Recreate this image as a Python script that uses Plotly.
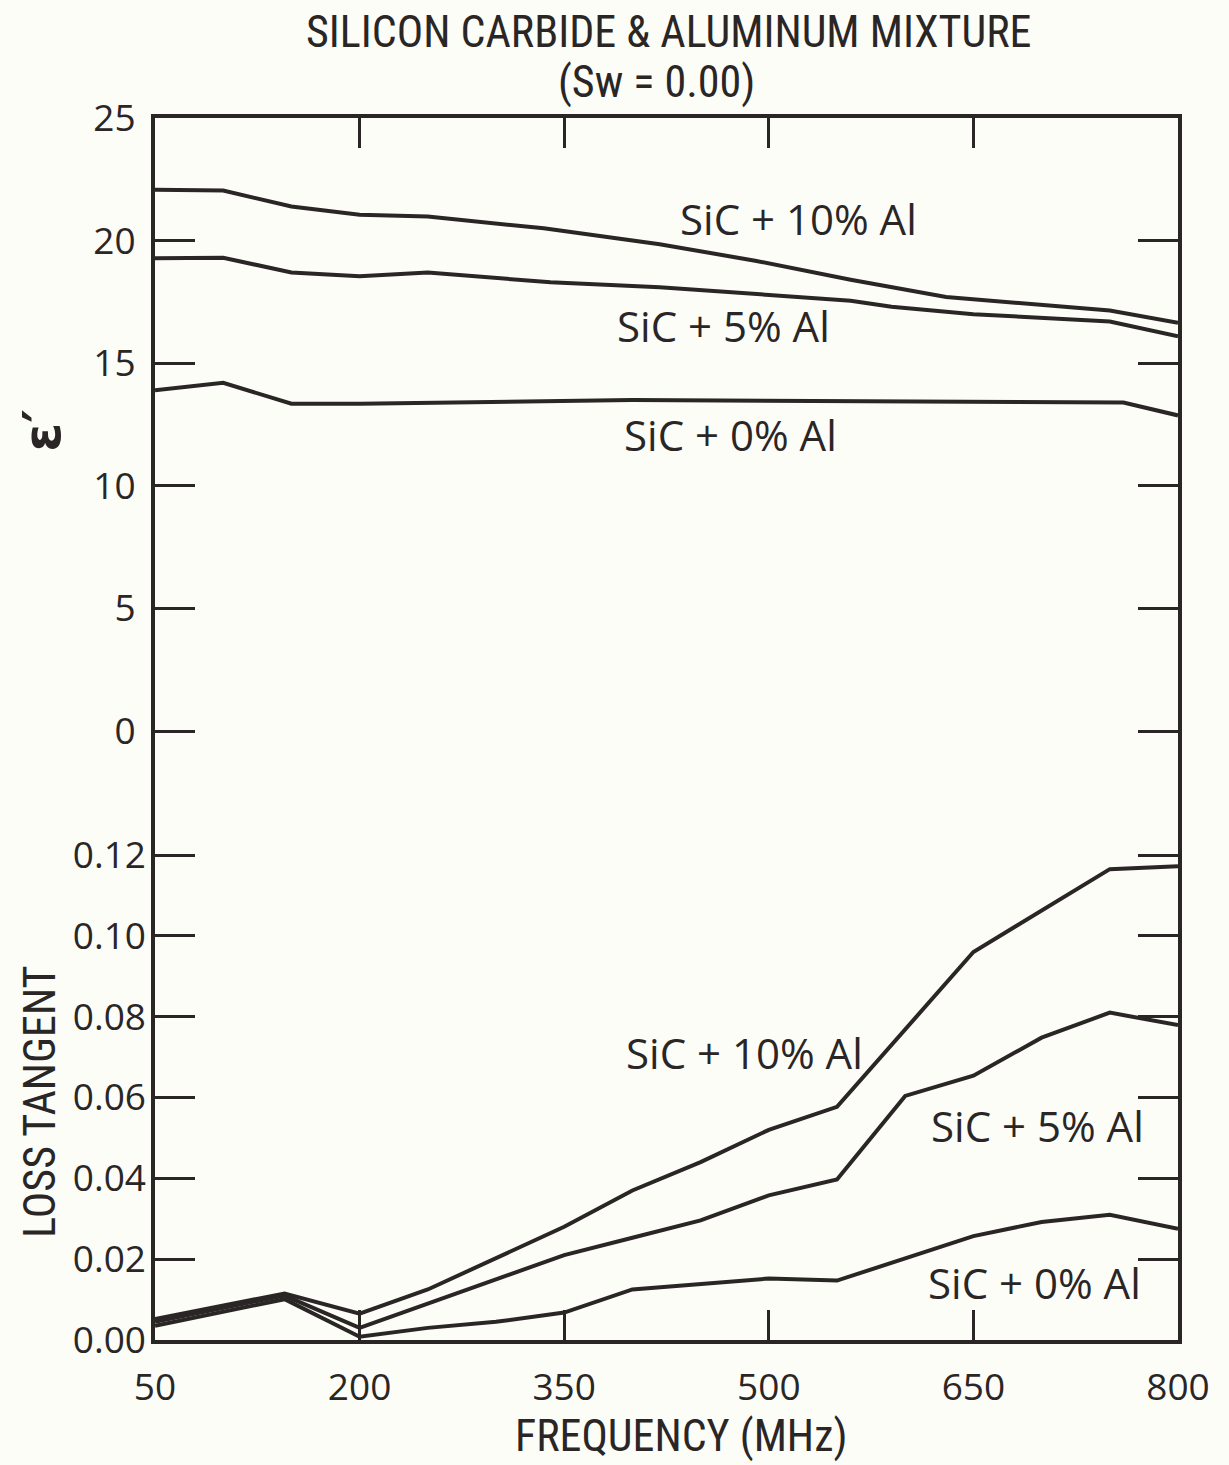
import plotly.graph_objects as go

# ---- data ----
freq_eps_10 = [50, 100, 150, 200, 250, 335, 420, 490, 560, 630, 750, 800]
eps_10 = [22.07, 22.04, 21.39, 21.05, 20.98, 20.5, 19.85, 19.18, 18.4, 17.7, 17.15, 16.65]

freq_eps_5 = [50, 100, 150, 200, 250, 340, 420, 560, 590, 650, 750, 800]
eps_5 = [19.28, 19.3, 18.7, 18.55, 18.7, 18.3, 18.1, 17.55, 17.3, 17.0, 16.7, 16.1]

freq_eps_0 = [50, 100, 150, 200, 400, 760, 800]
eps_0 = [13.9, 14.2, 13.35, 13.35, 13.5, 13.4, 12.87]

freq_lt_10 = [50, 145, 200, 250, 350, 400, 450, 500, 550, 650, 750, 800]
lt_10 = [0.0052, 0.0115, 0.0065, 0.0125, 0.028, 0.037, 0.044, 0.052, 0.0577, 0.096, 0.1165, 0.1172]

freq_lt_5 = [50, 145, 200, 350, 400, 450, 500, 550, 600, 650, 700, 750, 800]
lt_5 = [0.0045, 0.011, 0.003, 0.021, 0.0253, 0.0296, 0.0358, 0.0397, 0.0604, 0.0654, 0.0748, 0.081, 0.0779]

freq_lt_0 = [50, 145, 200, 250, 300, 350, 400, 450, 500, 550, 650, 700, 750, 800]
lt_0 = [0.0035, 0.0101, 0.0008, 0.003, 0.0045, 0.0068, 0.0125, 0.0138, 0.0152, 0.0147, 0.0257, 0.0292, 0.031, 0.0275]

x_ticks = [50, 200, 350, 500, 650, 800]
eps_ticks = [0, 5, 10, 15, 20, 25]
lt_ticks = [0.0, 0.02, 0.04, 0.06, 0.08, 0.10, 0.12]
lt_tick_text = ["0.00", "0.02", "0.04", "0.06", "0.08", "0.10", "0.12"]

title_line1 = "SILICON CARBIDE & ALUMINUM MIXTURE"
title_line2 = "(Sw = 0.00)"
series_labels = ["SiC + 10% Al", "SiC + 5% Al", "SiC + 0% Al"]

# ---- styling ----
INK = "#2b2626"
BG = "#fdfdf8"
LW = 4
TICK_FONT = dict(family="Open Sans, Lato, DejaVu Sans", size=37, color=INK)
COND_FONT = "Liberation Sans Narrow, Roboto Condensed, Arial Narrow, Liberation Sans"

fig = go.Figure()
for fx, fy in [(freq_eps_10, eps_10), (freq_eps_5, eps_5), (freq_eps_0, eps_0)]:
    fig.add_trace(go.Scatter(x=fx, y=fy, mode="lines", yaxis="y",
                             line=dict(color=INK, width=LW), showlegend=False))
for fx, fy in [(freq_lt_10, lt_10), (freq_lt_5, lt_5), (freq_lt_0, lt_0)]:
    fig.add_trace(go.Scatter(x=fx, y=fy, mode="lines", yaxis="y2",
                             line=dict(color=INK, width=LW), showlegend=False))

# plot area geometry: 0 of eps at 613 px below top (of 1222 px), 0.12 at 485 px above bottom
H = 1222.0
W = 1020.0
eps_low = -25.0 * (H - 613.0) / 613.0
lt_high = 0.12 * H / 485.0

fig.update_layout(
    width=1229, height=1465,
    margin=dict(l=155, r=51, t=118, b=125),
    paper_bgcolor=BG, plot_bgcolor=BG,
    xaxis=dict(range=[50, 800], tickvals=x_ticks, ticktext=[str(v) for v in x_ticks],
               ticks="inside", ticklen=30, tickwidth=3, tickcolor=INK,
               showline=True, linewidth=4, linecolor=INK, mirror="ticks",
               showgrid=False, zeroline=False, tickfont=TICK_FONT,
               ticklabelstandoff=12),
    yaxis=dict(range=[eps_low, 25], tickvals=eps_ticks, ticktext=[str(v) for v in eps_ticks],
               ticks="inside", ticklen=40, tickwidth=3, tickcolor=INK,
               showline=True, linewidth=4, linecolor=INK, mirror="ticks",
               showgrid=False, zeroline=False, tickfont=TICK_FONT,
               ticklabelstandoff=8),
    yaxis2=dict(range=[0, lt_high], tickvals=lt_ticks, ticktext=lt_tick_text,
                overlaying="y", side="left", anchor="x",
                ticks="inside", ticklen=40, tickwidth=3, tickcolor=INK,
                showline=False, mirror="ticks",
                showgrid=False, zeroline=False, tickfont=TICK_FONT,
                ticklabelstandoff=8),
)

L = 155.0
# title
fig.add_annotation(text=title_line1, xref="paper", yref="paper", x=(667 - L) / W,
                   y=1 + (118 - 32) / H, showarrow=False, xanchor="center", yanchor="middle",
                   font=dict(family=COND_FONT, size=44, color=INK))
fig.add_annotation(text=title_line2, xref="paper", yref="paper", x=(655 - L) / W,
                   y=1 + (118 - 82) / H, showarrow=False, xanchor="center", yanchor="middle",
                   font=dict(family=COND_FONT, size=44, color=INK))
# axis titles
fig.add_annotation(text="<b>\u03b5\u2032</b>", xref="paper", yref="paper", x=(42 - L) / W,
                   y=1 - (430 - 118) / H, showarrow=False, textangle=-90,
                   xanchor="center", yanchor="middle",
                   font=dict(family="DejaVu Sans", size=52, color=INK))
fig.add_annotation(text="LOSS TANGENT", xref="paper", yref="paper", x=(40 - L) / W,
                   y=1 - (1102 - 118) / H, showarrow=False, textangle=-90,
                   xanchor="center", yanchor="middle",
                   font=dict(family=COND_FONT, size=44, color=INK))
fig.add_annotation(text="FREQUENCY (MHz)", xref="paper", yref="paper", x=(680 - L) / W,
                   y=-(1436 - 1340) / H, showarrow=False, xanchor="center", yanchor="middle",
                   font=dict(family=COND_FONT, size=44, color=INK))

# in-plot series labels
LBL_FONT = dict(family="Open Sans, Lato, DejaVu Sans", size=42, color=INK)
fig.add_annotation(text=series_labels[0], x=522, y=20.9, xref="x", yref="y", showarrow=False, font=LBL_FONT)
fig.add_annotation(text=series_labels[1], x=467, y=16.55, xref="x", yref="y", showarrow=False, font=LBL_FONT)
fig.add_annotation(text=series_labels[2], x=472, y=12.1, xref="x", yref="y", showarrow=False, font=LBL_FONT)
fig.add_annotation(text=series_labels[0], x=482, y=0.0711, xref="x", yref="y2", showarrow=False, font=LBL_FONT)
fig.add_annotation(text=series_labels[1], x=697, y=0.0531, xref="x", yref="y2", showarrow=False, font=LBL_FONT)
fig.add_annotation(text=series_labels[2], x=695, y=0.0143, xref="x", yref="y2", showarrow=False, font=LBL_FONT)

fig.write_html("out.html")
